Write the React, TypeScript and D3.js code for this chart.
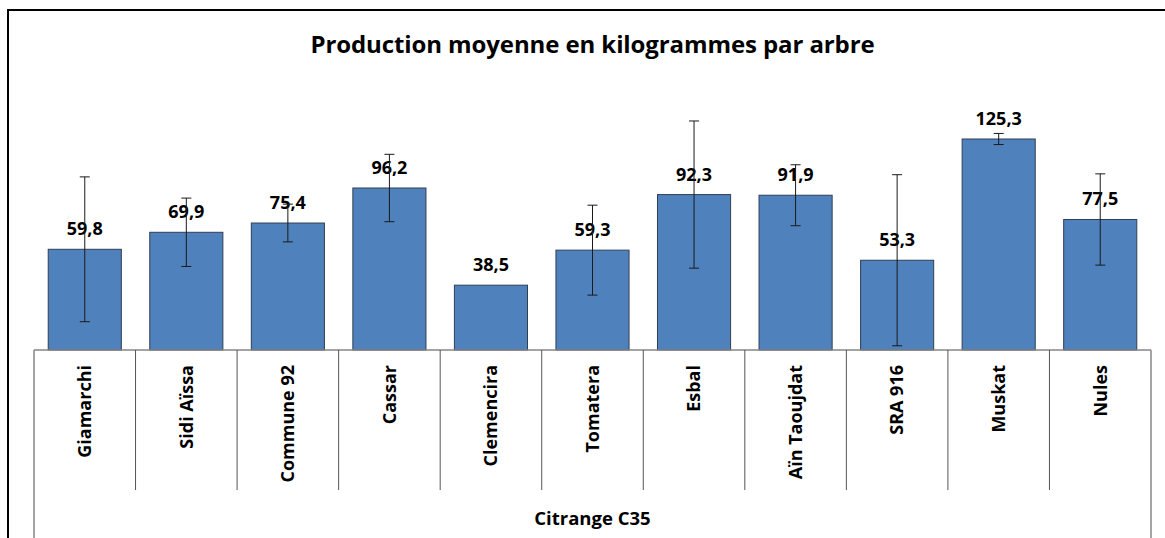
import React from 'react';
import * as d3 from 'd3';

const categories = [
  'Giamarchi', 'Sidi Aïssa', 'Commune 92', 'Cassar', 'Clemencira', 'Tomatera',
  'Esbal', 'Aïn Taoujdat', 'SRA 916', 'Muskat', 'Nules',
];
const means = [59.8, 69.9, 75.4, 96.2, 38.5, 59.3, 92.3, 91.9, 53.3, 125.3, 77.5];
const errors = [43, 20.3, 11.2, 20, 0, 26.7, 43.7, 18.1, 50.8, 3.3, 27.1];
const groupLabel = 'Citrange C35';
const title = 'Production moyenne en kilogrammes par arbre';

const W = 1165;
const H = 538;
const FONT = '"Open Sans", sans-serif';
const BAR = '#4f81bd';

export default function App() {
  const left = 34;
  const right = 1151;
  const baseY = 350;

  const x = d3.scaleBand<string>().domain(categories).range([left, right]).padding(0);
  const y = d3.scaleLinear().domain([0, 140]).range([baseY, baseY - 140 * 1.684]);
  const barW = x.bandwidth() * 0.72;
  const fmt = (v: number) => v.toFixed(1).replace('.', ',');

  return (
    <svg width={W} height={H} style={{ position: 'absolute', left: 0, top: 0, background: '#fff' }}>
      {/* outer chart border */}
      <rect x={8} y={10} width={W} height={H} fill="#fff" stroke="#000" strokeWidth={2} />

      <text x={(left + right) / 2} y={53} textAnchor="middle" fontFamily={FONT} fontWeight="bold" fontSize={24}
        letterSpacing={-0.1} fill="#000">
        {title}
      </text>

      {/* bars */}
      {categories.map((c, i) => {
        const cx = (x(c) as number) + x.bandwidth() / 2;
        return (
          <rect key={c} x={cx - barW / 2} y={y(means[i])} width={barW} height={baseY - y(means[i])}
            fill={BAR} stroke="#2f3f55" strokeWidth={1} />
        );
      })}

      {/* data labels */}
      {categories.map((c, i) => {
        const cx = (x(c) as number) + x.bandwidth() / 2;
        return (
          <text key={c} x={cx} y={y(means[i]) - 14} textAnchor="middle" fontFamily={FONT}
            fontWeight="bold" fontSize={18} fill="#000">
            {fmt(means[i])}
          </text>
        );
      })}

      {/* error bars */}
      {categories.map((c, i) => {
        if (!errors[i]) return null;
        const cx = (x(c) as number) + x.bandwidth() / 2;
        const y1 = y(means[i] + errors[i]);
        const y2 = y(means[i] - errors[i]);
        return (
          <g key={c} stroke="#1a1a1a" strokeWidth={1}>
            <line x1={cx} x2={cx} y1={y1} y2={y2} />
            <line x1={cx - 5} x2={cx + 5} y1={y1} y2={y1} />
            <line x1={cx - 5} x2={cx + 5} y1={y2} y2={y2} />
          </g>
        );
      })}

      {/* category axis */}
      <line x1={left} x2={right} y1={baseY} y2={baseY} stroke="#868686" strokeWidth={1.5} />
      <line x1={left} x2={left} y1={baseY} y2={H} stroke="#868686" strokeWidth={1.5} />
      <line x1={right} x2={right} y1={baseY} y2={H} stroke="#868686" strokeWidth={1.5} />
      {categories.slice(1).map((c) => (
        <line key={c} x1={x(c) as number} x2={x(c) as number} y1={baseY} y2={490} stroke="#555" strokeWidth={1} />
      ))}
      {categories.map((c) => {
        const cx = (x(c) as number) + x.bandwidth() / 2;
        return (
          <text key={c} transform={`translate(${cx},365) rotate(-90)`} textAnchor="end" dy="0.35em"
            fontFamily={FONT} fontWeight="bold" fontSize={18} fill="#000">
            {c}
          </text>
        );
      })}
      <text x={(left + right) / 2} y={525} textAnchor="middle" fontFamily={FONT} fontWeight="bold" fontSize={18.5} fill="#000">
        {groupLabel}
      </text>
    </svg>
  );
}
